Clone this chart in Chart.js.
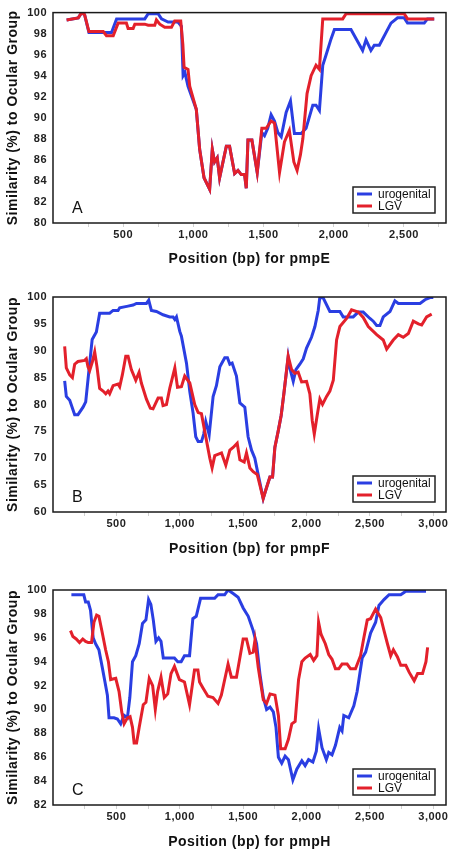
<!DOCTYPE html>
<html>
<head>
<meta charset="utf-8">
<script src="https://cdn.jsdelivr.net/npm/chart.js@4/dist/chart.umd.min.js"></script>
<style>
  body { margin: 0; background: #fff; }
  .panel { position: absolute; left: 0; width: 456px; }
  canvas { display: block; }
</style>
</head>
<body>
<div class="panel" style="top:0;height:280px"><canvas id="chartA" width="456" height="280"></canvas></div>
<div class="panel" style="top:280px;height:280px"><canvas id="chartB" width="456" height="280"></canvas></div>
<div class="panel" style="top:560px;height:294px"><canvas id="chartC" width="456" height="294"></canvas></div>
<script>
const seriesNames = ['urogenital', 'LGV'];
const panelLetters = ['A', 'B', 'C'];
const geneNames = ['pmpE', 'pmpF', 'pmpH'];

// x ticks every 250 bp, labelled every 500 bp
const xTicksE = [250,500,750,1000,1250,1500,1750,2000,2250,2500,2750];
const xTicksFH = [250,500,750,1000,1250,1500,1750,2000,2250,2500,2750,3000];

// pmpE
const eUroPos = [97,180,204,225,256,417,453,654,678,749,773,820,890,915,927,940,962,1021,1045,1076,1116,1135,1151,1170,1187,1235,1258,1294,1318,1341,1365,1377,1389,1417,1455,1488,1507,1530,1554,1578,1602,1626,1661,1692,1720,1768,1803,1851,1874,1898,1922,1946,1981,2005,2123,2206,2230,2265,2289,2325,2408,2455,2502,2526,2645,2668,2716];
const eUroSim = [99.3,99.5,100,99.8,98.1,98.1,99.4,99.4,99.9,99.9,99.4,99.1,99.1,98.7,94.0,94.3,93.0,90.8,87,84.3,83.2,87,85.8,86.2,84.3,87.3,87.3,84.7,85.0,84.6,84.6,83.3,87.9,87.9,84.8,88.6,88.3,89.0,90.3,89.7,88.6,88.2,90.5,91.6,88.5,88.5,89.0,91.2,91.2,90.7,95,96,97.5,98.4,98.4,96.4,97.4,96.4,96.9,96.9,99.0,99.5,99.5,99.0,99.0,99.4,99.4];
const eLgvPos = [97,180,204,225,256,358,381,429,464,523,535,571,583,654,678,725,737,761,796,844,867,910,925,934,962,974,1021,1045,1076,1116,1135,1151,1170,1187,1235,1258,1294,1318,1341,1365,1377,1389,1417,1455,1488,1519,1554,1578,1614,1649,1684,1716,1739,1763,1780,1810,1839,1874,1898,1922,2064,2088,2502,2526,2716];
const eLgvSim = [99.3,99.5,100,99.8,98.2,98.2,97.8,97.8,99.0,99.0,98.5,98.5,98.9,98.9,98.8,98.8,99.3,98.9,98.6,98.6,99.2,99.2,97,94.8,94.6,93,90.8,87,84.3,83.2,87,85.8,86.2,84.3,87.3,87.3,84.7,85.0,84.6,84.6,83.3,87.9,87.9,84.8,89.0,89.0,89.7,89.5,84.8,87.7,88.8,85.8,85.0,86.5,88,92.3,94,95.0,94.6,99.4,99.4,99.9,99.9,99.4,99.4];

// pmpF
const fUroPos = [92,105,132,171,197,237,258,282,309,342,368,447,474,513,526,592,632,658,737,755,776,816,868,921,947,961,974,1000,1013,1053,1079,1105,1126,1145,1171,1189,1205,1232,1263,1289,1316,1355,1376,1395,1413,1447,1474,1513,1539,1566,1592,1618,1658,1684,1711,1732,1750,1776,1800,1821,1855,1868,1895,1916,1947,1974,2000,2039,2066,2092,2105,2132,2184,2263,2289,2368,2408,2447,2500,2526,2553,2579,2605,2658,2697,2724,2895,2934,2974,3000];
const fUroSim = [84.4,81.5,80.8,78.1,78.1,79.5,80.5,86,92.1,93.5,97.0,97.0,97.5,97.5,98.0,98.3,98.5,98.8,98.8,99.4,97.5,97.3,96.7,96.3,96.3,95.8,96.3,93.6,92.7,87.7,82.4,78.4,74,73.1,73.1,74.5,76.8,74.4,81.5,83.5,87,88.7,88.7,87.5,87.7,85.3,80.3,79.5,74,71.5,70,67,62.5,64.5,66.5,66.5,72,75,78,82,88.8,86.8,84.3,86.5,87.5,88.5,90.5,92.5,94.5,97.5,100,99.8,97.3,97.3,96.3,96.3,97.2,97.2,96,95.5,94.7,94.7,96.3,97.3,99.3,98.8,98.8,99.5,99.9,99.9];
const fLgvPos = [92,105,132,153,171,197,250,263,276,289,311,329,347,368,395,416,434,447,474,513,526,547,574,592,618,653,679,697,737,768,789,829,855,868,895,921,961,982,1013,1039,1079,1118,1145,1171,1197,1237,1255,1276,1329,1363,1395,1421,1453,1474,1508,1526,1553,1579,1611,1632,1658,1684,1711,1732,1750,1776,1800,1821,1855,1882,1908,1934,1961,2000,2026,2045,2061,2084,2105,2126,2158,2184,2211,2237,2263,2316,2355,2408,2447,2487,2553,2605,2632,2684,2724,2763,2803,2842,2882,2908,2947,2987];
const fLgvSim = [90.8,86.8,85.5,85,87.5,88,88.2,88.5,87,86.3,88,89.8,87,83,82.5,82,82.5,82,83.5,83.8,83.3,85.5,89,89,86.5,84.5,86,84,81,79.3,79.2,81.2,81.2,79.8,80,83,86.8,83.2,83.3,85.3,84,80,78.5,78.3,75,70,68.2,70.5,71,68.7,71.5,72,72.8,69.7,69.3,71,68.2,67.5,67,65,62.5,64.5,66.5,66.5,72,75,78,82,89,86.5,85.8,86,84.2,84.3,82,77,74.5,78,81,80,81.5,82.5,84.5,92,94.5,96,97.6,97.2,96.2,94.5,93,92,90.3,92,93,92.5,93.2,95.5,95,94.8,96.3,96.8];

// pmpH
const hUroPos = [145,243,257,278,296,317,336,362,389,410,429,442,481,508,534,561,587,606,627,653,680,706,733,754,772,791,812,833,852,870,958,984,1011,1037,1077,1103,1130,1164,1275,1302,1354,1381,1421,1460,1500,1540,1579,1606,1632,1659,1685,1712,1738,1759,1778,1804,1831,1857,1892,1923,1963,1989,2016,2050,2077,2095,2122,2156,2175,2201,2228,2262,2280,2294,2333,2373,2399,2439,2466,2505,2545,2571,2611,2651,2743,2783,2942];
const hUroSim = [99.6,99.6,99,99,98.3,96,95.5,95,93.5,92.3,91.2,89.3,89.3,89.2,88.8,89.5,89.3,91,94,94.5,95.5,97.2,97.5,99.2,98.8,97.5,95.7,96,95.7,94.3,94.3,94,94,94.5,94.5,97.6,97.8,99.3,99.3,99.6,99.6,100,99.7,99.4,98.5,97.8,96.6,95.5,93,91,90,90.2,89.8,88.5,86,85.5,86.1,85.8,84.1,85,85.7,85.3,85.8,85.6,86.5,88.4,86.8,85.8,86.4,86.2,87,88.5,88.2,89.5,89.3,90.3,91.5,94.3,94.8,96.4,97.3,98.7,99.2,99.6,99.6,99.9,99.9];
const hLgvPos = [138,157,183,209,235,257,278,304,323,344,362,389,415,437,455,495,521,542,561,587,608,627,640,659,680,712,733,759,786,807,825,852,878,905,931,958,997,1037,1077,1116,1143,1156,1183,1222,1262,1302,1328,1381,1407,1447,1500,1526,1553,1579,1593,1619,1659,1685,1712,1751,1778,1796,1831,1857,1884,1910,1937,1963,1989,2029,2056,2082,2095,2114,2148,2175,2201,2228,2254,2280,2320,2347,2386,2426,2452,2479,2505,2545,2585,2611,2638,2664,2685,2717,2743,2783,2810,2849,2876,2915,2942,2955];
const hLgvSim = [96.6,96.1,95.9,95.6,95.9,95.7,95.6,95.6,97.3,97.9,97.8,96.4,95,94,92.5,92.6,91.5,89.8,88.8,89.3,89.4,88.5,87.2,87.2,88.5,90.4,90.6,92.6,92,90,91.5,92.7,91,91.3,93,93.6,92.5,92.3,90.4,93.3,93.3,92.3,91.8,91.1,91,90.5,91.2,93.8,92.7,92.7,95.9,95.9,94.7,94.8,95.8,93.5,90.8,90.5,91.3,91.2,89.5,86.7,86.7,87.5,88.8,89,92.5,94,94.3,94.6,94.1,94.5,97.3,96.3,95.5,94.6,94.2,93.4,93.4,93.8,93.8,93.4,93.4,94.5,96,97.5,97.6,98.4,97.7,96.6,95.5,94.5,95,94.4,93.7,93.7,93.1,92.4,93,93,94,95.2];

const blue = '#2a3ee2';
const red = '#e3202b';
const fontFamily = 'Arial, "Liberation Sans", sans-serif';

function points(xs, ys) {
    return xs.map((x, i) => ({ x: x, y: ys[i] }));
}

// the original lettering is widely spaced
const spacing = {
    id: 'spacing',
    beforeUpdate(chart) { chart.ctx.letterSpacing = '0.5px'; },
    beforeDraw(chart) { chart.ctx.letterSpacing = '0.5px'; }
};

// frame, panel letter and the boxed legend inside the plot
const panelDecor = {
    id: 'panelDecor',
    afterDatasetsDraw(chart, args, opts) {
        const ctx = chart.ctx;
        const a = chart.chartArea;
        ctx.save();
        ctx.strokeStyle = '#1a1a1a';
        ctx.lineWidth = 1.5;
        ctx.strokeRect(a.left, a.top, a.right - a.left, a.bottom - a.top);

        ctx.fillStyle = '#111';
        ctx.font = '16px ' + fontFamily;
        ctx.textBaseline = 'middle';
        ctx.textAlign = 'left';
        ctx.fillText(opts.letter, a.left + 19, a.bottom - 14);

        const w = 82, h = 26;
        const bx = a.right - 11 - w, by = a.bottom - 10 - h;
        ctx.fillStyle = '#fff';
        ctx.fillRect(bx, by, w, h);
        ctx.lineWidth = 1.5;
        ctx.strokeStyle = '#222';
        ctx.strokeRect(bx, by, w, h);
        ctx.font = '12px ' + fontFamily;
        ctx.letterSpacing = '0px';
        chart.data.datasets.forEach((ds, i) => {
            const y = by + 7 + i * 12;
            ctx.strokeStyle = ds.borderColor;
            ctx.lineWidth = 3;
            ctx.beginPath();
            ctx.moveTo(bx + 4, y);
            ctx.lineTo(bx + 19, y);
            ctx.stroke();
            ctx.fillStyle = '#111';
            ctx.fillText(ds.label, bx + 25, y + 0.5);
        });
        ctx.restore();
    }
};

function makeChart(id, letter, gene, uroPos, uroSim, lgvPos, lgvSim, yMin, yStep, xMax, xTicks, pad) {
    new Chart(document.getElementById(id), {
        type: 'line',
        data: {
            datasets: [
                { label: seriesNames[0], data: points(uroPos, uroSim), borderColor: blue, borderWidth: 3, pointRadius: 0, tension: 0, order: 2 },
                { label: seriesNames[1], data: points(lgvPos, lgvSim), borderColor: red, borderWidth: 3, pointRadius: 0, tension: 0, order: 1 }
            ]
        },
        options: {
            responsive: false,
            animation: false,
            layout: { padding: { left: 0, right: 10, top: pad.top, bottom: pad.bottom } },
            plugins: {
                legend: { display: false },
                tooltip: { enabled: false },
                panelDecor: { letter: letter }
            },
            scales: {
                x: {
                    type: 'linear',
                    min: 0,
                    max: xMax,
                    border: { display: false },
                    grid: { display: true, drawOnChartArea: false, drawTicks: true, tickLength: 4, color: '#d0d0d0' },
                    afterBuildTicks: s => { s.ticks = xTicks.map(v => ({ value: v })); },
                    ticks: {
                        autoSkip: false,
                        maxRotation: 0,
                        padding: 1,
                        color: '#222',
                        font: { family: fontFamily, size: 11, weight: 'bold' },
                        callback: v => (v % 500 === 0) ? v.toLocaleString('en-US') : ''
                    },
                    title: {
                        display: true,
                        text: 'Position (bp) for ' + gene,
                        color: '#111',
                        padding: 0,
                        font: { family: fontFamily, size: 14, weight: 'bold' }
                    },
                    afterFit: s => { s.height = pad.xh; }
                },
                y: {
                    min: yMin,
                    max: 100,
                    border: { display: false },
                    grid: { display: false, drawTicks: false },
                    ticks: {
                        stepSize: yStep,
                        padding: 6,
                        color: '#222',
                        font: { family: fontFamily, size: 11, weight: 'bold' }
                    },
                    title: {
                        display: true,
                        text: 'Similarity (%) to Ocular Group',
                        color: '#111',
                        padding: { top: 5, bottom: 0 },
                        font: { family: fontFamily, size: 14, weight: 'bold' }
                    },
                    afterFit: s => { s.width = 53; }
                }
            }
        },
        plugins: [spacing, panelDecor]
    });
}

makeChart('chartA', panelLetters[0], geneNames[0], eUroPos, eUroSim, eLgvPos, eLgvSim, 80, 2, 2800, xTicksE, { top: 8, bottom: 12, xh: 45 });
makeChart('chartB', panelLetters[1], geneNames[1], fUroPos, fUroSim, fLgvPos, fLgvSim, 60, 5, 3100, xTicksFH, { top: 17, bottom: 2, xh: 46 });
makeChart('chartC', panelLetters[2], geneNames[2], hUroPos, hUroSim, hLgvPos, hLgvSim, 82, 2, 3100, xTicksFH, { top: 30, bottom: 3, xh: 46 });
</script>
</body>
</html>
